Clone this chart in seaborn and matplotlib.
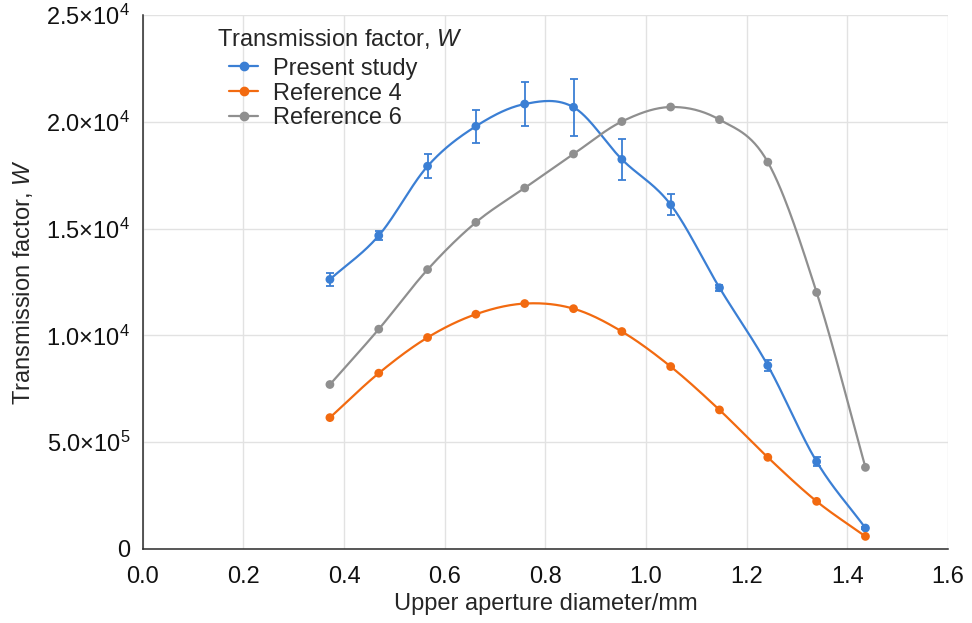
import numpy as np
import pandas as pd
import matplotlib
matplotlib.use("Agg")
import matplotlib.pyplot as plt
from matplotlib.lines import Line2D
import seaborn as sns

# aperture diameters (mm)
diameter = [0.372, 0.469, 0.566, 0.662, 0.759, 0.856, 0.952, 1.049, 1.146, 1.242, 1.339, 1.436]

present_study = [12620, 14670, 17920, 19790, 20830, 20680, 18240, 16120, 12230, 8590, 4090, 980]
present_err = [300, 200, 550, 770, 1010, 1330, 950, 490, 150, 250, 200, 60]
reference_4 = [6150, 8230, 9900, 10990, 11490, 11250, 10180, 8540, 6510, 4290, 2230, 590]
reference_6 = [7700, 10290, 13080, 15290, 16900, 18490, 20010, 20690, 20100, 18110, 12010, 3820]

series_names = ["Present study", "Reference 4", "Reference 6"]
colors = ["#3b7fd4", "#f26a10", "#8f8f8f"]

xtick_vals = [0.0, 0.2, 0.4, 0.6, 0.8, 1.0, 1.2, 1.4, 1.6]
ytick_vals = [0, 5000, 10000, 15000, 20000, 25000]
ytick_labels = ["0", r"5.0×10$^{5}$", r"1.0×10$^{4}$", r"1.5×10$^{4}$",
                r"2.0×10$^{4}$", r"2.5×10$^{4}$"]


def smooth(x, y, n=30):
    # catmull-rom curve through the points (like a spreadsheet's smoothed line)
    p = np.column_stack([x, y]).astype(float)
    p = np.vstack([2 * p[0] - p[1], p, 2 * p[-1] - p[-2]])
    out = []
    t = np.linspace(0, 1, n, endpoint=False)[:, None]
    for i in range(1, len(p) - 2):
        p0, p1, p2, p3 = p[i - 1], p[i], p[i + 1], p[i + 2]
        seg = 0.5 * ((2 * p1) + (-p0 + p2) * t
                     + (2 * p0 - 5 * p1 + 4 * p2 - p3) * t ** 2
                     + (-p0 + 3 * p1 - 3 * p2 + p3) * t ** 3)
        out.append(seg)
    out.append(p[-2][None, :])
    out = np.vstack(out)
    return out[:, 0], out[:, 1]


sns.set_style("white")
plt.rcParams["font.family"] = ["Liberation Sans", "DejaVu Sans"]
plt.rcParams["mathtext.fontset"] = "custom"
plt.rcParams["mathtext.rm"] = "Liberation Sans"
plt.rcParams["mathtext.it"] = "Liberation Sans:italic"

fig = plt.figure(figsize=(9.72, 6.23), dpi=100)
ax = fig.add_axes([0.1468, 0.1188, 0.8285, 0.8572])

df = pd.DataFrame({"diameter": diameter * 3,
                   "W": present_study + reference_4 + reference_6,
                   "series": sum([[s] * len(diameter) for s in series_names], [])})

for name, vals, c in zip(series_names, [present_study, reference_4, reference_6], colors):
    sx, sy = smooth(diameter, vals)
    ax.plot(sx, sy, color=c, lw=1.6, zorder=3)

sns.scatterplot(data=df, x="diameter", y="W", hue="series", palette=colors,
                s=40, edgecolor="none", legend=False, ax=ax, zorder=4)
ax.errorbar(diameter, present_study, yerr=present_err, fmt="none",
            ecolor=colors[0], elinewidth=1.3, capsize=2.8, capthick=1.3, zorder=4)

ax.set_xlim(0, 1.6)
ax.set_ylim(0, 25000)
ax.set_xticks(xtick_vals)
ax.set_xticklabels([f"{v:.1f}" for v in xtick_vals])
ax.set_yticks(ytick_vals)
ax.set_yticklabels(ytick_labels)
ax.grid(True, color="#e2e2e2", lw=1)
ax.set_axisbelow(True)
for s in ["top", "right"]:
    ax.spines[s].set_visible(False)
for s in ["left", "bottom"]:
    ax.spines[s].set_color("#2a2a2a")
    ax.spines[s].set_linewidth(1.1)
ax.tick_params(axis="both", direction="in", length=6, width=1.1, color="#2a2a2a",
               labelsize=17, labelcolor="#111111")
ax.tick_params(axis="y", pad=9)
ax.tick_params(axis="x", pad=12.5)

ax.set_xlabel("Upper aperture diameter/mm", fontsize=17, labelpad=3)
ax.set_ylabel("Transmission factor, $\\mathit{W}$", fontsize=17, labelpad=8)

ax.text(0.092, 0.978, "Transmission factor, $\\mathit{W}$", transform=ax.transAxes,
        fontsize=17, ha="left", va="top")
handles = [Line2D([0], [0], color=c, lw=1.6, marker="o", markersize=6) for c in colors]
ax.legend(handles, series_names, loc="upper left", bbox_to_anchor=(0.107, 0.92),
          frameon=False, fontsize=17, handlelength=1.25, handletextpad=0.62,
          labelspacing=0.12, borderaxespad=0, borderpad=0)

fig.savefig("out.png", dpi=100)
